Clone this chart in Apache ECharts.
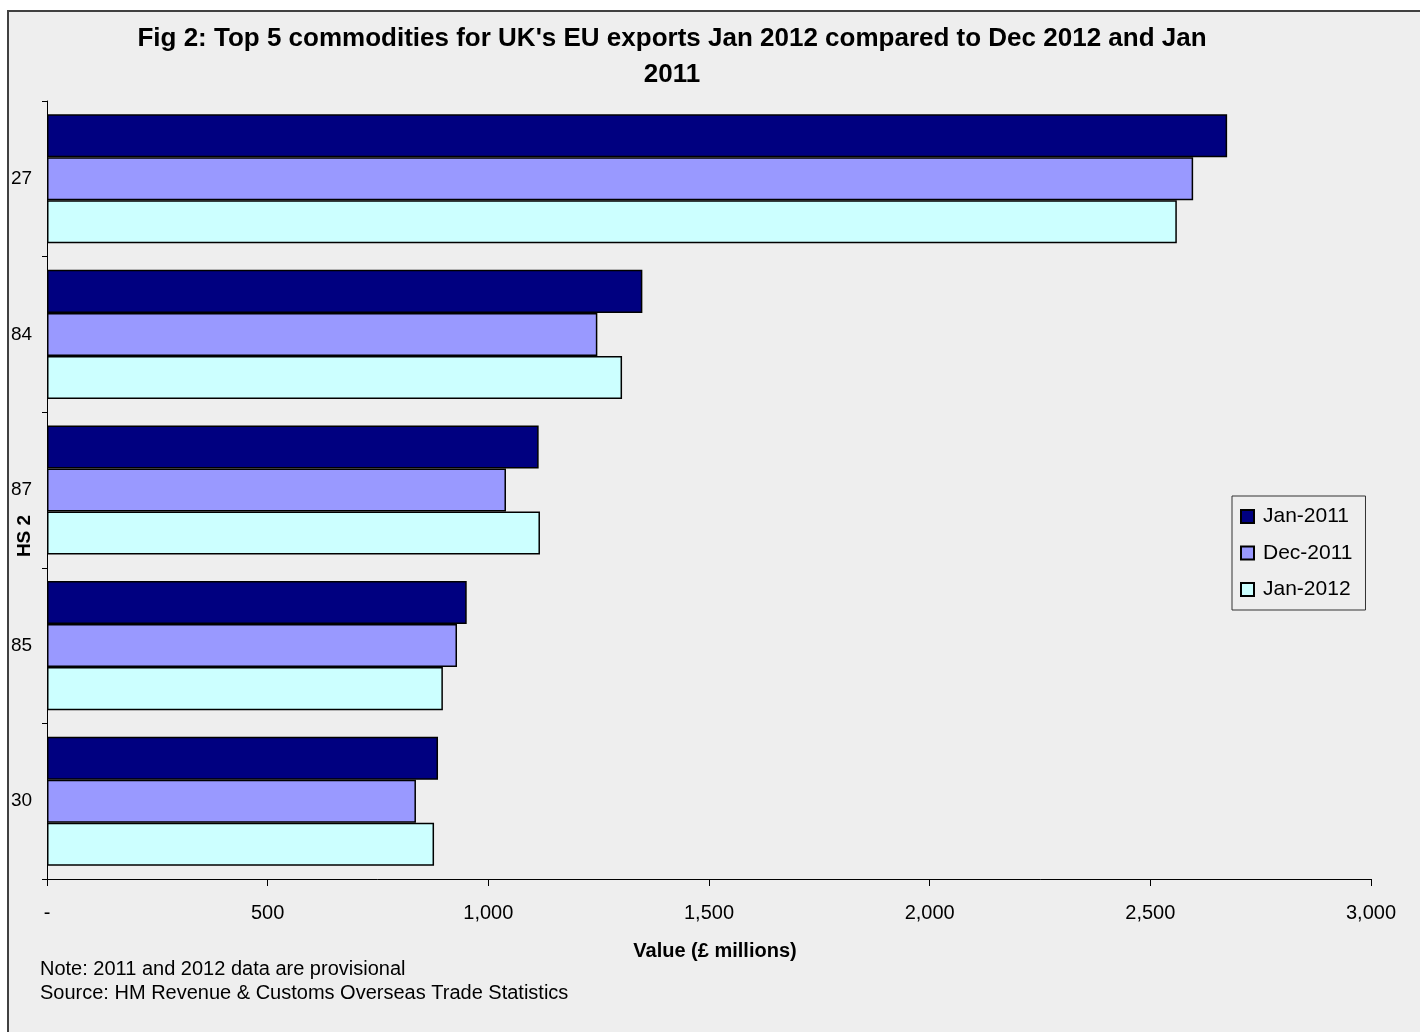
<!DOCTYPE html>
<html>
<head>
<meta charset="utf-8">
<script src="https://cdn.jsdelivr.net/npm/echarts@6/dist/echarts.min.js"></script>
<style>
html,body{margin:0;padding:0;background:#fff;}
#chart{width:1420px;height:1032px;}
</style>
</head>
<body>
<div id="chart"></div>
<script>
const categories = ['27', '84', '87', '85', '30'];
const seriesNames = ['Jan-2011', 'Dec-2011', 'Jan-2012'];
const jan2011 = [2674, 1349, 1114, 951, 886];
const dec2011 = [2597, 1247, 1040, 929, 836];
const jan2012 = [2560, 1303, 1117, 897, 877];
const xTicks = [0, 500, 1000, 1500, 2000, 2500, 3000];
const colors = ['#000080', '#9999FF', '#CCFFFF'];

const FONT = '"Liberation Sans", Arial, sans-serif';
const chart = echarts.init(document.getElementById('chart'));
const values = [jan2011, dec2011, jan2012];

chart.setOption({
  backgroundColor: '#ffffff',
  animation: false,
  textStyle: { fontFamily: FONT, color: '#000' },
  title: {
    text: 'Fig 2: Top 5 commodities for UK\'s EU exports Jan 2012 compared to Dec 2012 and Jan\n2011',
    left: 667, top: 16, textAlign: 'center',
    textStyle: { fontFamily: FONT, fontWeight: 'bold', fontSize: 26, lineHeight: 36, color: '#000' }
  },
  legend: {
    orient: 'vertical', left: 1232, top: 496,
    padding: [10, 13, 10, 8], itemGap: 15.5,
    itemWidth: 13, itemHeight: 13, icon: 'rect',
    borderColor: '#333', borderWidth: 1,
    data: seriesNames,
    textStyle: { fontFamily: FONT, fontSize: 21, lineHeight: 21, color: '#000', padding: [0, 0, 0, 4] }
  },
  grid: { left: 47, right: 49, top: 101, bottom: 153, containLabel: false },
  xAxis: {
    type: 'value', min: 0, max: 3000, interval: 500,
    name: 'Value (£ millions)', nameLocation: 'middle', nameGap: 62,
    nameTextStyle: { fontFamily: FONT, fontWeight: 'bold', fontSize: 20, color: '#000', padding: [0, 0, 0, 12] },
    axisLine: { show: true, lineStyle: { color: '#000', width: 1 } },
    axisTick: { show: true, length: 7, lineStyle: { color: '#000' } },
    splitLine: { show: false },
    axisLabel: {
      fontFamily: FONT, fontSize: 20, color: '#000', margin: 24,
      formatter: v => v === 0 ? '-' : v.toLocaleString('en-US')
    }
  },
  yAxis: {
    type: 'category', data: categories, inverse: true,
    axisLine: { show: true, lineStyle: { color: '#000', width: 1 } },
    axisTick: { show: true, length: 5, lineStyle: { color: '#000' } },
    axisLabel: { fontFamily: FONT, fontSize: 19, color: '#000', align: 'left', margin: 36 }
  },
  graphic: [
    { type: 'rect', z: -10, shape: { x: 8, y: 11, width: 1460, height: 1060 },
      style: { fill: '#eeeeee', stroke: '#404040', lineWidth: 2 } },
    { type: 'text', left: 40, top: 959, style: { text: 'Note: 2011 and 2012 data are provisional', font: '20px ' + FONT, fill: '#000' } },
    { type: 'text', left: 40, top: 983, style: { text: 'Source: HM Revenue & Customs Overseas Trade Statistics', font: '20px ' + FONT, fill: '#000' } },
    { type: 'text', x: 25, y: 536, rotation: Math.PI / 2,
      style: { text: 'HS 2', font: 'bold 19px ' + FONT, fill: '#000', align: 'center', verticalAlign: 'middle' } }
  ],
  series: seriesNames.map((n, i) => ({
    name: n, type: 'bar', data: values[i],
    barGap: '0%', barCategoryGap: '17%',
    itemStyle: { color: colors[i], borderColor: '#000', borderWidth: 1.5 }
  }))
});
</script>
</body>
</html>
